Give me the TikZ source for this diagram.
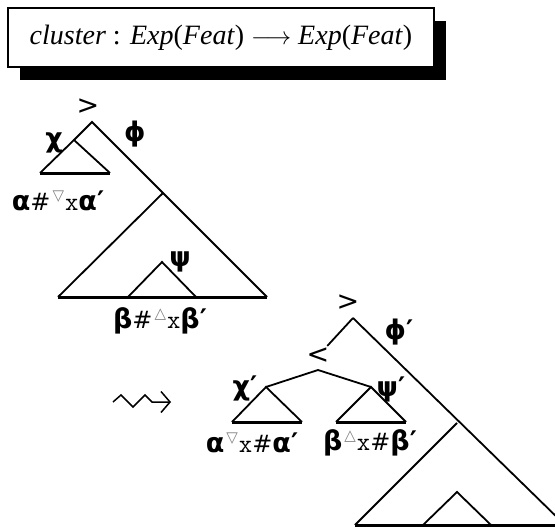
\documentclass[tikz,border=0pt]{standalone}
\usepackage{fontspec}
\setmainfont{Liberation Serif}
\newfontfamily\grkfont{DejaVu Sans}
\usetikzlibrary{arrows.meta,shadows}

\newcommand{\gk}[1]{{\grkfont\bfseries\fontsize{27}{27}\selectfont #1}}
\newcommand{\hsh}{{\grkfont\fontsize{24}{24}\selectfont\#}}
\newcommand{\xch}{{\ttfamily\fontsize{26}{26}\selectfont x}}
\newcommand{\trdown}{\kern2pt\raisebox{10pt}{\color{gray}\grkfont\fontsize{15}{15}\selectfont ▽}\kern1pt}
\newcommand{\trup}{\kern2pt\raisebox{10pt}{\color{gray}\grkfont\fontsize{15}{15}\selectfont △}\kern1pt}

\begin{document}
\begin{tikzpicture}[x=1pt,y=-1pt,
  edge/.style={line width=1.8pt, line join=miter},
  base/.style={line width=3pt},
  lbl/.style={inner sep=0pt},
  rel/.style={inner sep=2pt, fill=white, font=\grkfont\fontsize{27}{27}\selectfont},
  titlebox/.style={draw, line width=1.8pt, fill=white,
                   minimum width=426pt, minimum height=59pt,
                   font=\fontsize{28}{28}\selectfont,
                   drop shadow={shadow xshift=12pt, shadow yshift=-13pt, opacity=1, fill=black}}
]
\useasboundingbox (0,0) rectangle (555,527);
\clip (0,0) rectangle (555,527);
\node[titlebox] (title) at (221,37.5) {\textit{cluster} : \textit{Exp}(\textit{Feat}) $\longrightarrow$ \textit{Exp}(\textit{Feat})};

% first tree
\coordinate (top1) at (92,122);
\coordinate (chi1) at (74,140);
\coordinate (chi1l) at (40,173);
\coordinate (chi1r) at (110,173);
\coordinate (mid1) at (163,193);
\coordinate (bot1l) at (58,297);
\coordinate (bot1r) at (267,297);
\coordinate (psi1) at (162,262);
\coordinate (psi1l) at (128,297);
\coordinate (psi1r) at (196,297);
\draw[edge] (chi1) -- (top1) -- (bot1r);
\draw[edge] (chi1l) -- (chi1) -- (chi1r);
\draw[edge] (bot1l) -- (mid1);
\draw[edge] (psi1l) -- (psi1) -- (psi1r);
\draw[base] (chi1l) -- (chi1r);
\draw[base] (bot1l) -- (bot1r);
\node[rel] (gt1) at (88,107) {>};
\node[lbl] (phi1) at (135,134) {\gk{ϕ}};
\node[lbl] (chi1lab) at (54,143) {\gk{χ}};
\node[lbl] (psi1lab) at (180,262) {\gk{ψ}};
\node[lbl] (yield1a) at (58,201) {\gk{α}\hsh\trdown\xch\gk{α′}};
\node[lbl] (yield1b) at (160,321) {\gk{β}\hsh\trup\xch\gk{β′}};

% rewrite arrow
\coordinate (sq0) at (113,402);
\coordinate (sq1) at (121,395);
\coordinate (sq2) at (133,407);
\coordinate (sq3) at (145,395);
\coordinate (sq4) at (152,402);
\coordinate (sq5) at (171,402);
\draw[line width=1.5pt, -{Straight Barb[length=9pt,width=21pt]}] (sq0) -- (sq1) -- (sq2) -- (sq3) -- (sq4) -- (sq5);

% second tree
\coordinate (top2) at (353,318);
\coordinate (lt2) at (318,370);
\coordinate (chi2) at (266,387);
\coordinate (chi2l) at (232,422);
\coordinate (chi2r) at (302,422);
\coordinate (psi2) at (371,387);
\coordinate (psi2l) at (336,422);
\coordinate (psi2r) at (406,422);
\coordinate (mid2) at (457,423);
\coordinate (bot2l) at (355,525);
\coordinate (bot2r) at (565,525);
\coordinate (in2) at (457,492);
\coordinate (in2l) at (423,525);
\coordinate (in2r) at (491,525);
\node[rel] (lt) at (318,356) {<};
\draw[edge] (top2) -- (lt);
\draw[edge] (top2) -- (bot2r);
\draw[edge] (chi2) -- (lt2) -- (psi2);
\draw[edge] (chi2l) -- (chi2) -- (chi2r);
\draw[edge] (psi2l) -- (psi2) -- (psi2r);
\draw[edge] (bot2l) -- (mid2);
\draw[edge] (in2l) -- (in2) -- (in2r);
\draw[base] (chi2l) -- (chi2r);
\draw[base] (psi2l) -- (psi2r);
\draw[base] (bot2l) -- (bot2r);
\node[rel] (gt2) at (348,303) {>};
\node[lbl] (phi2) at (399,332) {\gk{ϕ′}};
\node[lbl] (chi2lab) at (245,388) {\gk{χ′}};
\node[lbl] (psi2lab) at (391,389) {\gk{ψ′}};
\node[lbl] (yield2a) at (252,443) {\gk{α}\trdown\xch\hsh\gk{α′}};
\node[lbl] (yield2b) at (370,443) {\gk{β}\trup\xch\hsh\gk{β′}};
\end{tikzpicture}
\end{document}
